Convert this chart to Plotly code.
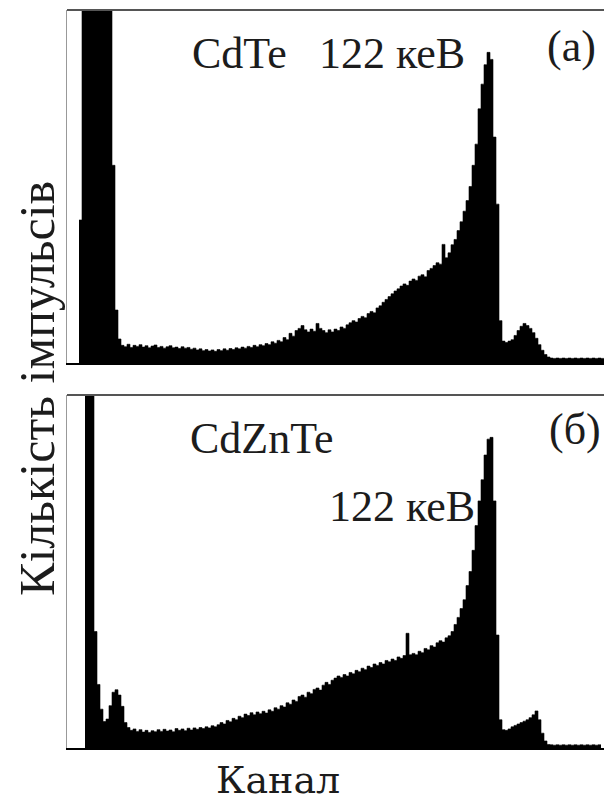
import plotly.graph_objects as go

# ---- data: channel numbers (bin left edges) and counts ----
cdte_start = 4
cdte_counts = [
    405, 3000, 3000, 3000, 3000, 3000, 3000, 3000, 3000, 3000, 3000,
    560, 150, 68, 50, 46, 53, 44, 50, 47, 52, 45, 49, 43, 48, 51, 44, 47, 42,
    46, 49, 43, 45, 41, 46, 42, 44, 39, 42, 37, 40, 35, 38, 34, 37, 33, 38,
    35, 40, 36, 41, 38, 43, 40, 45, 42, 47, 44, 50, 46, 52, 49, 55, 52, 60,
    56, 64, 60, 72, 66, 84, 76, 92, 98, 106, 94, 88, 96, 90, 112, 98, 92, 86,
    94, 88, 96, 92, 102, 98, 108, 114, 120, 116, 126, 132, 128, 140, 146, 142,
    156, 162, 172, 180, 188, 196, 204, 210, 218, 224, 220, 232, 238, 234, 246,
    250, 244, 262, 268, 276, 284, 280, 336, 298, 312, 335, 350, 375, 400, 430,
    460, 500, 560, 620, 720, 790, 845, 880, 860, 640, 450, 120, 62, 58, 62,
    66, 78, 92, 104, 112, 106, 98, 86, 70, 52, 36, 24, 17, 14, 13, 14, 13, 14,
    13, 14, 13, 14, 13, 14, 13, 14, 13, 14, 13, 14, 13,
]

cdznte_start = 6
cdznte_counts = [
    3000, 3000, 3000, 330, 180, 110, 75, 82, 120, 158, 165, 150, 118, 72, 58,
    50, 54, 47, 52, 45, 50, 44, 49, 46, 52, 47, 53, 48, 51, 46, 55, 50, 54, 49,
    56, 51, 57, 53, 58, 55, 60, 57, 63, 60, 66, 72, 68, 78, 74, 84, 80, 90, 86,
    96, 92, 100, 94, 102, 97, 104, 99, 108, 104, 114, 110, 120, 116, 128, 124,
    136, 132, 146, 150, 144, 158, 154, 166, 170, 164, 178, 186, 180, 192, 198,
    204, 200, 208, 204, 214, 210, 220, 216, 226, 222, 232, 228, 238, 234, 242,
    238, 248, 244, 252, 248, 258, 254, 262, 325, 264, 268, 264, 274, 270, 282,
    278, 290, 286, 298, 304, 300, 312, 318, 330, 350, 370, 395, 420, 460, 500,
    560, 630, 700, 760, 830, 875, 880, 700, 320, 80, 52, 50, 54, 60, 64, 68, 72,
    76, 80, 86, 94, 105, 80, 42, 20, 10, 9, 8, 9, 8, 9, 8, 9, 8, 9, 8, 9, 8, 9,
    8, 9, 8, 9,
]

panel_a_label = "CdTe"
panel_b_label = "CdZnTe"
peak_label = "122 кеВ"
y_title = "Кількість імпульсів"
x_title = "Канал"


def steps(start, counts):
    xs = [start + i for i in range(len(counts))]
    xs.append(xs[-1] + 1)
    ys = list(counts) + [counts[-1]]
    return xs, ys


fig = go.Figure()
xa, ya = steps(cdte_start, cdte_counts)
xb, yb = steps(cdznte_start, cdznte_counts)
fig.add_trace(go.Scatter(x=xa, y=ya, mode="lines", line=dict(shape="hv", color="black", width=0.6),
                         fill="tozeroy", fillcolor="black", xaxis="x", yaxis="y", hoverinfo="skip"))
fig.add_trace(go.Scatter(x=xb, y=yb, mode="lines", line=dict(shape="hv", color="black", width=0.6),
                         fill="tozeroy", fillcolor="black", xaxis="x2", yaxis="y2", hoverinfo="skip"))

ax_common = dict(showgrid=False, zeroline=False, showticklabels=False, ticks="", fixedrange=True)
fig.update_layout(
    width=604, height=805,
    margin=dict(l=67, r=0, t=10, b=57),
    paper_bgcolor="white", plot_bgcolor="white",
    showlegend=False,
    xaxis=dict(domain=[0, 1], range=[0, 179], anchor="y", showline=True, linecolor="black", linewidth=2, **ax_common),
    yaxis=dict(domain=[0.5217, 1], range=[0, 1000], anchor="x", showline=True, linecolor="#999", linewidth=1, **ax_common),
    xaxis2=dict(domain=[0, 1], range=[0, 179], anchor="y2", showline=True, linecolor="black", linewidth=2, **ax_common),
    yaxis2=dict(domain=[0, 0.4783], range=[0, 1000], anchor="x2", showline=True, linecolor="#999", linewidth=1, **ax_common),
)

# top frame lines of each panel
for ytop in (1.0, 0.4783):
    fig.add_shape(type="line", xref="paper", yref="paper", x0=0, x1=1, y0=ytop, y1=ytop,
                  line=dict(color="#555", width=2))

SERIF = "Liberation Serif, Times New Roman, serif"
font_big = dict(family=SERIF, size=44, color="#1c1c1c")


def ann(text, x, y, xanchor="left", font=font_big, **kw):
    fig.add_annotation(text=text, xref="paper", yref="paper", x=x, y=y, xanchor=xanchor,
                       yanchor="middle", showarrow=False, font=font, **kw)


ann(panel_a_label, 0.229, 0.9404)
ann(peak_label, 0.4655, 0.9404)
ann("(a)", 0.989, 0.951, xanchor="right")
ann(panel_b_label, 0.2253, 0.4187)
ann(peak_label, 0.4842, 0.3266)
ann("(б)", 0.998, 0.4309, xanchor="right")
ann(y_title, -0.056, 0.4878, xanchor="center", textangle=-90,
    font=dict(family=SERIF, size=50, color="#1c1c1c"))
ann(x_title, 0.393, -0.0434, xanchor="center",
    font=dict(family="DejaVu Serif, serif", size=38, color="#1c1c1c"))

fig.write_html("out.html", config={"displayModeBar": False},
               post_script="document.body.style.margin='0';document.body.style.padding='0';")
